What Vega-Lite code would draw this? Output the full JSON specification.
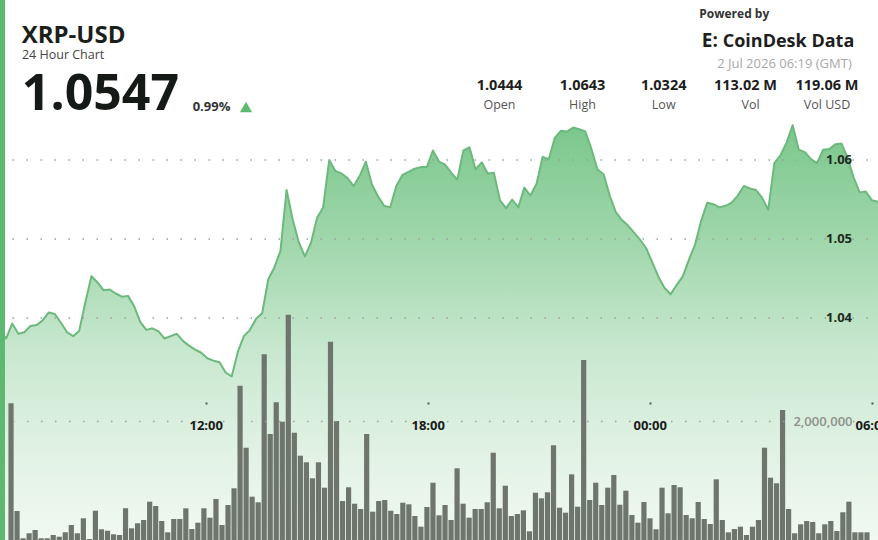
{
  "$schema": "https://vega.github.io/schema/vega-lite/v6.json",
  "width": 878,
  "height": 540,
  "autosize": "none",
  "padding": 0,
  "background": "#ffffff",
  "config": {"view": {"stroke": null}},
  "data": {"values": [
    {"time":"2026-07-01T06:20:00Z","price":1.0385},
    {"time":"2026-07-01T06:30:00Z","price":1.0374,"volume":2298000},
    {"time":"2026-07-01T06:40:00Z","price":1.0393,"volume":487000},
    {"time":"2026-07-01T06:50:00Z","price":1.0380,"volume":29000},
    {"time":"2026-07-01T07:00:00Z","price":1.0382,"volume":113000},
    {"time":"2026-07-01T07:10:00Z","price":1.0390,"volume":168000},
    {"time":"2026-07-01T07:20:00Z","price":1.0391,"volume":29000},
    {"time":"2026-07-01T07:30:00Z","price":1.0397,"volume":29000},
    {"time":"2026-07-01T07:40:00Z","price":1.0407,"volume":84000},
    {"time":"2026-07-01T07:50:00Z","price":1.0405,"volume":55000},
    {"time":"2026-07-01T08:00:00Z","price":1.0394,"volume":129000},
    {"time":"2026-07-01T08:10:00Z","price":1.0382,"volume":252000},
    {"time":"2026-07-01T08:20:00Z","price":1.0377,"volume":113000},
    {"time":"2026-07-01T08:30:00Z","price":1.0384,"volume":365000},
    {"time":"2026-07-01T08:40:00Z","price":1.0420,"volume":17000},
    {"time":"2026-07-01T08:50:00Z","price":1.0453,"volume":492000},
    {"time":"2026-07-01T09:00:00Z","price":1.0445,"volume":180000},
    {"time":"2026-07-01T09:10:00Z","price":1.0435,"volume":156000},
    {"time":"2026-07-01T09:20:00Z","price":1.0436,"volume":96000},
    {"time":"2026-07-01T09:30:00Z","price":1.0431,"volume":84000},
    {"time":"2026-07-01T09:40:00Z","price":1.0427,"volume":533000},
    {"time":"2026-07-01T09:50:00Z","price":1.0428,"volume":197000},
    {"time":"2026-07-01T10:00:00Z","price":1.0415,"volume":281000},
    {"time":"2026-07-01T10:10:00Z","price":1.0395,"volume":336000},
    {"time":"2026-07-01T10:20:00Z","price":1.0385,"volume":644000},
    {"time":"2026-07-01T10:30:00Z","price":1.0387,"volume":571000},
    {"time":"2026-07-01T10:40:00Z","price":1.0383,"volume":319000},
    {"time":"2026-07-01T10:50:00Z","price":1.0374,"volume":129000},
    {"time":"2026-07-01T11:00:00Z","price":1.0377,"volume":353000},
    {"time":"2026-07-01T11:10:00Z","price":1.0380,"volume":353000},
    {"time":"2026-07-01T11:20:00Z","price":1.0371,"volume":533000},
    {"time":"2026-07-01T11:30:00Z","price":1.0365,"volume":185000},
    {"time":"2026-07-01T11:40:00Z","price":1.0360,"volume":291000},
    {"time":"2026-07-01T11:50:00Z","price":1.0356,"volume":533000},
    {"time":"2026-07-01T12:00:00Z","price":1.0349,"volume":375000},
    {"time":"2026-07-01T12:10:00Z","price":1.0346,"volume":689000},
    {"time":"2026-07-01T12:20:00Z","price":1.0344,"volume":252000},
    {"time":"2026-07-01T12:30:00Z","price":1.0331,"volume":588000},
    {"time":"2026-07-01T12:40:00Z","price":1.0326,"volume":869000},
    {"time":"2026-07-01T12:50:00Z","price":1.0357,"volume":2593000},
    {"time":"2026-07-01T13:00:00Z","price":1.0377,"volume":1551000},
    {"time":"2026-07-01T13:10:00Z","price":1.0385,"volume":728000},
    {"time":"2026-07-01T13:20:00Z","price":1.0399,"volume":634000},
    {"time":"2026-07-01T13:30:00Z","price":1.0406,"volume":3121000},
    {"time":"2026-07-01T13:40:00Z","price":1.0449,"volume":1782000},
    {"time":"2026-07-01T13:50:00Z","price":1.0464,"volume":2314000},
    {"time":"2026-07-01T14:00:00Z","price":1.0485,"volume":1988000},
    {"time":"2026-07-01T14:10:00Z","price":1.0562,"volume":3787000},
    {"time":"2026-07-01T14:20:00Z","price":1.0525,"volume":1803000},
    {"time":"2026-07-01T14:30:00Z","price":1.0496,"volume":1417000},
    {"time":"2026-07-01T14:40:00Z","price":1.0478,"volume":1306000},
    {"time":"2026-07-01T14:50:00Z","price":1.0495,"volume":1037000},
    {"time":"2026-07-01T15:00:00Z","price":1.0527,"volume":1306000},
    {"time":"2026-07-01T15:10:00Z","price":1.0540,"volume":879000},
    {"time":"2026-07-01T15:20:00Z","price":1.0600,"volume":3333000},
    {"time":"2026-07-01T15:30:00Z","price":1.0586,"volume":2000000},
    {"time":"2026-07-01T15:40:00Z","price":1.0583,"volume":655000},
    {"time":"2026-07-01T15:50:00Z","price":1.0577,"volume":886000},
    {"time":"2026-07-01T16:00:00Z","price":1.0567,"volume":610000},
    {"time":"2026-07-01T16:10:00Z","price":1.0580,"volume":521000},
    {"time":"2026-07-01T16:20:00Z","price":1.0598,"volume":1782000},
    {"time":"2026-07-01T16:30:00Z","price":1.0569,"volume":476000},
    {"time":"2026-07-01T16:40:00Z","price":1.0554,"volume":655000},
    {"time":"2026-07-01T16:50:00Z","price":1.0542,"volume":672000},
    {"time":"2026-07-01T17:00:00Z","price":1.0540,"volume":492000},
    {"time":"2026-07-01T17:10:00Z","price":1.0567,"volume":437000},
    {"time":"2026-07-01T17:20:00Z","price":1.0581,"volume":627000},
    {"time":"2026-07-01T17:30:00Z","price":1.0585,"volume":600000},
    {"time":"2026-07-01T17:40:00Z","price":1.0589,"volume":403000},
    {"time":"2026-07-01T17:50:00Z","price":1.0591,"volume":224000},
    {"time":"2026-07-01T18:00:00Z","price":1.0591,"volume":555000},
    {"time":"2026-07-01T18:10:00Z","price":1.0612,"volume":963000},
    {"time":"2026-07-01T18:20:00Z","price":1.0598,"volume":415000},
    {"time":"2026-07-01T18:30:00Z","price":1.0594,"volume":588000},
    {"time":"2026-07-01T18:40:00Z","price":1.0584,"volume":336000},
    {"time":"2026-07-01T18:50:00Z","price":1.0575,"volume":1205000},
    {"time":"2026-07-01T19:00:00Z","price":1.0612,"volume":610000},
    {"time":"2026-07-01T19:10:00Z","price":1.0616,"volume":375000},
    {"time":"2026-07-01T19:20:00Z","price":1.0588,"volume":521000},
    {"time":"2026-07-01T19:30:00Z","price":1.0597,"volume":521000},
    {"time":"2026-07-01T19:40:00Z","price":1.0583,"volume":634000},
    {"time":"2026-07-01T19:50:00Z","price":1.0584,"volume":1467000},
    {"time":"2026-07-01T20:00:00Z","price":1.0549,"volume":533000},
    {"time":"2026-07-01T20:10:00Z","price":1.0539,"volume":913000},
    {"time":"2026-07-01T20:20:00Z","price":1.0550,"volume":403000},
    {"time":"2026-07-01T20:30:00Z","price":1.0540,"volume":437000},
    {"time":"2026-07-01T20:40:00Z","price":1.0565,"volume":499000},
    {"time":"2026-07-01T20:50:00Z","price":1.0555,"volume":146000},
    {"time":"2026-07-01T21:00:00Z","price":1.0570,"volume":795000},
    {"time":"2026-07-01T21:10:00Z","price":1.0604,"volume":701000},
    {"time":"2026-07-01T21:20:00Z","price":1.0601,"volume":802000},
    {"time":"2026-07-01T21:30:00Z","price":1.0628,"volume":1592000},
    {"time":"2026-07-01T21:40:00Z","price":1.0637,"volume":543000},
    {"time":"2026-07-01T21:50:00Z","price":1.0636,"volume":459000},
    {"time":"2026-07-01T22:00:00Z","price":1.0641,"volume":1104000},
    {"time":"2026-07-01T22:10:00Z","price":1.0639,"volume":560000},
    {"time":"2026-07-01T22:20:00Z","price":1.0636,"volume":3025000},
    {"time":"2026-07-01T22:30:00Z","price":1.0614,"volume":672000},
    {"time":"2026-07-01T22:40:00Z","price":1.0588,"volume":963000},
    {"time":"2026-07-01T22:50:00Z","price":1.0582,"volume":588000},
    {"time":"2026-07-01T23:00:00Z","price":1.0555,"volume":879000},
    {"time":"2026-07-01T23:10:00Z","price":1.0534,"volume":1092000},
    {"time":"2026-07-01T23:20:00Z","price":1.0524,"volume":593000},
    {"time":"2026-07-01T23:30:00Z","price":1.0517,"volume":829000},
    {"time":"2026-07-01T23:40:00Z","price":1.0508,"volume":420000},
    {"time":"2026-07-01T23:50:00Z","price":1.0499,"volume":291000},
    {"time":"2026-07-02T00:00:00Z","price":1.0488,"volume":639000},
    {"time":"2026-07-02T00:10:00Z","price":1.0470,"volume":365000},
    {"time":"2026-07-02T00:20:00Z","price":1.0452,"volume":180000},
    {"time":"2026-07-02T00:30:00Z","price":1.0438,"volume":879000},
    {"time":"2026-07-02T00:40:00Z","price":1.0430,"volume":449000},
    {"time":"2026-07-02T00:50:00Z","price":1.0442,"volume":924000},
    {"time":"2026-07-02T01:00:00Z","price":1.0453,"volume":886000},
    {"time":"2026-07-02T01:10:00Z","price":1.0474,"volume":420000},
    {"time":"2026-07-02T01:20:00Z","price":1.0493,"volume":365000},
    {"time":"2026-07-02T01:30:00Z","price":1.0523,"volume":639000},
    {"time":"2026-07-02T01:40:00Z","price":1.0546,"volume":353000},
    {"time":"2026-07-02T01:50:00Z","price":1.0544,"volume":269000},
    {"time":"2026-07-02T02:00:00Z","price":1.0540,"volume":1020000},
    {"time":"2026-07-02T02:10:00Z","price":1.0542,"volume":336000},
    {"time":"2026-07-02T02:20:00Z","price":1.0546,"volume":129000},
    {"time":"2026-07-02T02:30:00Z","price":1.0555,"volume":185000},
    {"time":"2026-07-02T02:40:00Z","price":1.0567,"volume":224000},
    {"time":"2026-07-02T02:50:00Z","price":1.0564,"volume":84000},
    {"time":"2026-07-02T03:00:00Z","price":1.0562,"volume":224000},
    {"time":"2026-07-02T03:10:00Z","price":1.0552,"volume":336000},
    {"time":"2026-07-02T03:20:00Z","price":1.0537,"volume":1551000},
    {"time":"2026-07-02T03:30:00Z","price":1.0596,"volume":1047000},
    {"time":"2026-07-02T03:40:00Z","price":1.0606,"volume":953000},
    {"time":"2026-07-02T03:50:00Z","price":1.0622,"volume":2185000},
    {"time":"2026-07-02T04:00:00Z","price":1.0644,"volume":521000},
    {"time":"2026-07-02T04:10:00Z","price":1.0613,"volume":113000},
    {"time":"2026-07-02T04:20:00Z","price":1.0610,"volume":264000},
    {"time":"2026-07-02T04:30:00Z","price":1.0601,"volume":319000},
    {"time":"2026-07-02T04:40:00Z","price":1.0596,"volume":303000},
    {"time":"2026-07-02T04:50:00Z","price":1.0613,"volume":113000},
    {"time":"2026-07-02T05:00:00Z","price":1.0614,"volume":264000},
    {"time":"2026-07-02T05:10:00Z","price":1.0620,"volume":319000},
    {"time":"2026-07-02T05:20:00Z","price":1.0621,"volume":151000},
    {"time":"2026-07-02T05:30:00Z","price":1.0603,"volume":466000},
    {"time":"2026-07-02T05:40:00Z","price":1.0578,"volume":644000},
    {"time":"2026-07-02T05:50:00Z","price":1.0559,"volume":129000},
    {"time":"2026-07-02T06:00:00Z","price":1.0560,"volume":129000},
    {"time":"2026-07-02T06:10:00Z","price":1.0549,"volume":129000},
    {"time":"2026-07-02T06:20:00Z","price":1.0547}
  ]},
  "resolve": {"scale": {"x": "independent", "y": "independent"}},
  "layer": [
    {
      "layer": [
        {
          "mark": {"type": "area", "clip": true, "interpolate": "linear",
            "color": {"gradient": "linear", "x1": 0, "y1": 0, "x2": 0, "y2": 1,
              "stops": [{"offset": 0, "color": "#7bc78c"}, {"offset": 0.3, "color": "#a3d8ae"}, {"offset": 0.55, "color": "#c9e8d0"}, {"offset": 0.8, "color": "#e2f2e5"}, {"offset": 1, "color": "#f1f9f2"}]}},
          "encoding": {
            "x": {"field": "time", "type": "temporal", "scale": {"type": "utc", "domain": [{"year": 2026, "month": 7, "date": 1, "hours": 6, "minutes": 20, "utc": true}, {"year": 2026, "month": 7, "date": 2, "hours": 6, "minutes": 20, "utc": true}]}, "axis": null},
            "y": {"field": "price", "type": "quantitative", "scale": {"domain": [1.0119, 1.08025], "nice": false, "zero": false}, "axis": null},
            "y2": {"datum": 1.0119}
          }
        },
        {
          "mark": {"type": "line", "clip": true, "color": "#6cb97d", "strokeWidth": 2, "strokeJoin": "round"},
          "encoding": {
            "x": {"field": "time", "type": "temporal", "axis": null},
            "y": {"field": "price", "type": "quantitative", "axis": null}
          }
        },
        {
          "data": {"values": [{"level": 1.04}, {"level": 1.05}, {"level": 1.06}]},
          "mark": {"type": "rule", "color": "#9e9e9e", "strokeWidth": 1.5, "strokeDash": [1.5, 12.5], "strokeDashOffset": 4},
          "encoding": {"y": {"field": "level", "type": "quantitative", "axis": null}}
        },
        {
          "data": {"values": [{"level": 1.04}, {"level": 1.05}, {"level": 1.06}]},
          "mark": {"type": "text", "align": "right", "baseline": "middle", "font": "Open Sans", "fontSize": 13, "fontWeight": "bold", "color": "#1d2a22"},
          "encoding": {
            "x": {"datum": {"year": 2026, "month": 7, "date": 2, "hours": 5, "minutes": 37, "seconds": 24, "utc": true}, "type": "temporal", "axis": null},
            "y": {"field": "level", "type": "quantitative", "axis": null},
            "text": {"field": "level", "type": "quantitative", "format": ".2f"}
          }
        },
        {
          "data": {"values": [{"edge": "left"}]},
          "mark": {"type": "rule", "color": "#5cb96f", "strokeWidth": 10},
          "encoding": {"x": {"datum": {"year": 2026, "month": 7, "date": 1, "hours": 6, "minutes": 20, "utc": true}, "type": "temporal", "axis": null}}
        },
        {
          "data": {"values": [{"label": "XRP-USD"}]},
          "mark": {"type": "text", "align": "left", "baseline": "alphabetic", "font": "Open Sans", "fontSize": 24, "fontWeight": "bold", "color": "#1b1f1c"},
          "encoding": {"x": {"datum": {"year": 2026, "month": 7, "date": 1, "hours": 6, "minutes": 55, "seconds": 30, "utc": true}, "type": "temporal", "axis": null}, "y": {"datum": 1.074848, "type": "quantitative", "axis": null}, "text": {"field": "label"}}
        },
        {
          "data": {"values": [{"label": "24 Hour Chart"}]},
          "mark": {"type": "text", "align": "left", "baseline": "alphabetic", "font": "Open Sans", "fontSize": 12.5, "color": "#444444"},
          "encoding": {"x": {"datum": {"year": 2026, "month": 7, "date": 1, "hours": 6, "minutes": 56, "utc": true}, "type": "temporal", "axis": null}, "y": {"datum": 1.072747, "type": "quantitative", "axis": null}, "text": {"field": "label"}}
        },
        {
          "data": {"values": [{"label": "1.0547"}]},
          "mark": {"type": "text", "align": "left", "baseline": "alphabetic", "font": "Open Sans", "fontSize": 50, "fontWeight": "bold", "color": "#161a17"},
          "encoding": {"x": {"datum": {"year": 2026, "month": 7, "date": 1, "hours": 6, "minutes": 55, "seconds": 50, "utc": true}, "type": "temporal", "axis": null}, "y": {"datum": 1.066329, "type": "quantitative", "axis": null}, "text": {"field": "label"}}
        },
        {
          "data": {"values": [{"label": "0.99%"}]},
          "mark": {"type": "text", "align": "left", "baseline": "alphabetic", "font": "Open Sans", "fontSize": 13, "fontWeight": "bold", "color": "#333333"},
          "encoding": {"x": {"datum": {"year": 2026, "month": 7, "date": 1, "hours": 11, "minutes": 36, "utc": true}, "type": "temporal", "axis": null}, "y": {"datum": 1.066203, "type": "quantitative", "axis": null}, "text": {"field": "label"}}
        },
        {
          "data": {"values": [{"change": "up"}]},
          "mark": {"type": "point", "shape": "triangle-up", "filled": true, "size": 150, "color": "#5cb96f", "opacity": 1},
          "encoding": {"x": {"datum": {"year": 2026, "month": 7, "date": 1, "hours": 13, "minutes": 3, "seconds": 28, "utc": true}, "type": "temporal", "axis": null}, "y": {"datum": 1.066709, "type": "quantitative", "axis": null}}
        },
        {
          "data": {"values": [{"label": "Powered by"}]},
          "mark": {"type": "text", "align": "left", "baseline": "alphabetic", "font": "Open Sans", "fontSize": 12, "fontWeight": "bold", "color": "#333333"},
          "encoding": {"x": {"datum": {"year": 2026, "month": 7, "date": 2, "hours": 1, "minutes": 26, "seconds": 54, "utc": true}, "type": "temporal", "axis": null}, "y": {"datum": 1.078013, "type": "quantitative", "axis": null}, "text": {"field": "label"}}
        },
        {
          "data": {"values": [{"label": "E:"}]},
          "mark": {"type": "text", "align": "left", "baseline": "alphabetic", "font": "Open Sans", "fontSize": 19, "fontWeight": "bold", "letterSpacing": 0, "color": "#1e1e1e"},
          "encoding": {"x": {"datum": {"year": 2026, "month": 7, "date": 2, "hours": 1, "minutes": 31, "seconds": 0, "utc": true}, "type": "temporal", "axis": null}, "y": {"datum": 1.074342, "type": "quantitative", "axis": null}, "text": {"field": "label"}}
        },
        {
          "data": {"values": [{"label": "CoinDesk Data"}]},
          "mark": {"type": "text", "align": "left", "baseline": "alphabetic", "font": "Open Sans", "fontSize": 18, "fontWeight": "bold", "color": "#1e1e1e"},
          "encoding": {"x": {"datum": {"year": 2026, "month": 7, "date": 2, "hours": 2, "minutes": 5, "seconds": 18, "utc": true}, "type": "temporal", "axis": null}, "y": {"datum": 1.074342, "type": "quantitative", "axis": null}, "text": {"field": "label"}}
        },
        {
          "data": {"values": [{"label": "2 Jul 2026 06:19 (GMT)"}]},
          "mark": {"type": "text", "align": "right", "baseline": "alphabetic", "font": "Open Sans", "fontSize": 13, "color": "#a8a8a8"},
          "encoding": {"x": {"datum": {"year": 2026, "month": 7, "date": 2, "hours": 5, "minutes": 36, "seconds": 54, "utc": true}, "type": "temporal", "axis": null}, "y": {"datum": 1.071646, "type": "quantitative", "axis": null}, "text": {"field": "label"}}
        },
        {
          "data": {"values": [{"label": "1.0444"}]},
          "mark": {"type": "text", "align": "center", "baseline": "alphabetic", "font": "Open Sans", "fontSize": 14.5, "fontWeight": "bold", "color": "#1d1d1d"},
          "encoding": {"x": {"datum": {"year": 2026, "month": 7, "date": 1, "hours": 19, "minutes": 59, "seconds": 13, "utc": true}, "type": "temporal", "axis": null}, "y": {"datum": 1.068797, "type": "quantitative", "axis": null}, "text": {"field": "label"}}
        },
        {
          "data": {"values": [{"label": "Open"}]},
          "mark": {"type": "text", "align": "center", "baseline": "alphabetic", "font": "Open Sans", "fontSize": 12.5, "color": "#555555"},
          "encoding": {"x": {"datum": {"year": 2026, "month": 7, "date": 1, "hours": 19, "minutes": 59, "seconds": 13, "utc": true}, "type": "temporal", "axis": null}, "y": {"datum": 1.066456, "type": "quantitative", "axis": null}, "text": {"field": "label"}}
        },
        {
          "data": {"values": [{"label": "1.0643"}]},
          "mark": {"type": "text", "align": "center", "baseline": "alphabetic", "font": "Open Sans", "fontSize": 14.5, "fontWeight": "bold", "color": "#1d1d1d"},
          "encoding": {"x": {"datum": {"year": 2026, "month": 7, "date": 1, "hours": 22, "minutes": 15, "seconds": 22, "utc": true}, "type": "temporal", "axis": null}, "y": {"datum": 1.068797, "type": "quantitative", "axis": null}, "text": {"field": "label"}}
        },
        {
          "data": {"values": [{"label": "High"}]},
          "mark": {"type": "text", "align": "center", "baseline": "alphabetic", "font": "Open Sans", "fontSize": 12.5, "color": "#555555"},
          "encoding": {"x": {"datum": {"year": 2026, "month": 7, "date": 1, "hours": 22, "minutes": 15, "seconds": 22, "utc": true}, "type": "temporal", "axis": null}, "y": {"datum": 1.066456, "type": "quantitative", "axis": null}, "text": {"field": "label"}}
        },
        {
          "data": {"values": [{"label": "1.0324"}]},
          "mark": {"type": "text", "align": "center", "baseline": "alphabetic", "font": "Open Sans", "fontSize": 14.5, "fontWeight": "bold", "color": "#1d1d1d"},
          "encoding": {"x": {"datum": {"year": 2026, "month": 7, "date": 2, "hours": 0, "minutes": 28, "seconds": 32, "utc": true}, "type": "temporal", "axis": null}, "y": {"datum": 1.068797, "type": "quantitative", "axis": null}, "text": {"field": "label"}}
        },
        {
          "data": {"values": [{"label": "Low"}]},
          "mark": {"type": "text", "align": "center", "baseline": "alphabetic", "font": "Open Sans", "fontSize": 12.5, "color": "#555555"},
          "encoding": {"x": {"datum": {"year": 2026, "month": 7, "date": 2, "hours": 0, "minutes": 28, "seconds": 32, "utc": true}, "type": "temporal", "axis": null}, "y": {"datum": 1.066456, "type": "quantitative", "axis": null}, "text": {"field": "label"}}
        },
        {
          "data": {"values": [{"label": "113.02 M"}]},
          "mark": {"type": "text", "align": "center", "baseline": "alphabetic", "font": "Open Sans", "fontSize": 14.5, "fontWeight": "bold", "color": "#1d1d1d"},
          "encoding": {"x": {"datum": {"year": 2026, "month": 7, "date": 2, "hours": 2, "minutes": 42, "seconds": 41, "utc": true}, "type": "temporal", "axis": null}, "y": {"datum": 1.068797, "type": "quantitative", "axis": null}, "text": {"field": "label"}}
        },
        {
          "data": {"values": [{"label": "Vol"}]},
          "mark": {"type": "text", "align": "center", "baseline": "alphabetic", "font": "Open Sans", "fontSize": 12.5, "color": "#555555"},
          "encoding": {"x": {"datum": {"year": 2026, "month": 7, "date": 2, "hours": 2, "minutes": 50, "seconds": 54, "utc": true}, "type": "temporal", "axis": null}, "y": {"datum": 1.066456, "type": "quantitative", "axis": null}, "text": {"field": "label"}}
        },
        {
          "data": {"values": [{"label": "119.06 M"}]},
          "mark": {"type": "text", "align": "center", "baseline": "alphabetic", "font": "Open Sans", "fontSize": 14.5, "fontWeight": "bold", "color": "#1d1d1d"},
          "encoding": {"x": {"datum": {"year": 2026, "month": 7, "date": 2, "hours": 4, "minutes": 56, "seconds": 22, "utc": true}, "type": "temporal", "axis": null}, "y": {"datum": 1.068797, "type": "quantitative", "axis": null}, "text": {"field": "label"}}
        },
        {
          "data": {"values": [{"label": "Vol USD"}]},
          "mark": {"type": "text", "align": "center", "baseline": "alphabetic", "font": "Open Sans", "fontSize": 12.5, "color": "#555555"},
          "encoding": {"x": {"datum": {"year": 2026, "month": 7, "date": 2, "hours": 4, "minutes": 56, "seconds": 22, "utc": true}, "type": "temporal", "axis": null}, "y": {"datum": 1.066456, "type": "quantitative", "axis": null}, "text": {"field": "label"}}
        }
      ]
    },
    {
      "mark": {"type": "bar", "width": 5.2, "color": "#6d756d"},
      "encoding": {
        "x": {"field": "time", "type": "temporal", "scale": {"type": "utc", "domain": [{"year": 2026, "month": 7, "date": 1, "hours": 6, "minutes": 20, "utc": true}, {"year": 2026, "month": 7, "date": 2, "hours": 6, "minutes": 20, "utc": true}]}, "axis": null},
        "y": {"field": "volume", "type": "quantitative", "scale": {"domain": [0, 9075630], "nice": false, "zero": true},
          "axis": {"orient": "right", "values": [2000000], "format": ",d", "labelAlign": "right", "labelBaseline": "middle", "labelPadding": -26, "ticks": false, "tickSize": 0, "domain": false, "grid": true, "gridColor": "#9e9e9e", "gridDash": [1.5, 12.5], "gridDashOffset": 4, "gridWidth": 1.5, "labelFont": "Open Sans", "labelFontSize": 13, "labelFontWeight": 600, "labelColor": "#8d928d", "title": null, "zindex": 1}}
      }
    },
    {
      "mark": {"type": "point", "opacity": 0},
      "encoding": {
        "x": {"field": "time", "type": "temporal", "scale": {"type": "utc", "domain": [{"year": 2026, "month": 7, "date": 1, "hours": 6, "minutes": 26, "seconds": 26, "utc": true}, {"year": 2026, "month": 7, "date": 2, "hours": 6, "minutes": 10, "seconds": 13, "utc": true}]},
          "axis": {"orient": "bottom", "offset": -138, "values": [{"year": 2026, "month": 7, "date": 1, "hours": 12, "utc": true}, {"year": 2026, "month": 7, "date": 1, "hours": 18, "utc": true}, {"year": 2026, "month": 7, "date": 2, "hours": 0, "utc": true}, {"year": 2026, "month": 7, "date": 2, "hours": 6, "utc": true}],
            "labelExpr": "utcFormat(datum.value, '%H:%M')", "domain": false, "grid": false, "ticks": true, "tickSize": 2, "tickWidth": 2, "tickColor": "#555555", "labelPadding": 15, "labelFlush": false, "labelOverlap": false, "labelFont": "Open Sans", "labelFontSize": 13, "labelFontWeight": "bold", "labelColor": "#1a1a1a", "title": null, "zindex": 1}}
      }
    }
  ]
}
